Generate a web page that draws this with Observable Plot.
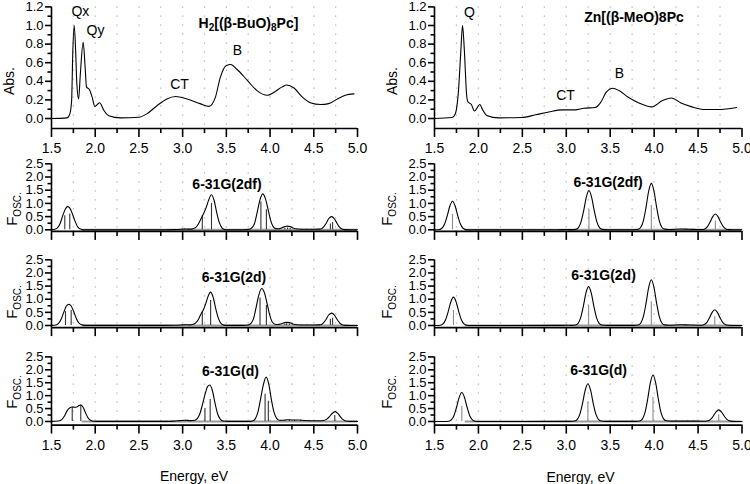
<!DOCTYPE html>
<html><head><meta charset="utf-8">
<script src="https://cdn.jsdelivr.net/npm/d3@7"></script>
<script src="https://cdn.jsdelivr.net/npm/@observablehq/plot@0.6"></script>
<style>
body{margin:0;background:#fff;}
#root{position:relative;width:750px;height:484px;overflow:hidden;font-family:"Liberation Sans",Arial,sans-serif;color:#000;}
#root svg{position:absolute;left:0;top:0;}
.lbl{position:absolute;white-space:nowrap;transform:translate(-50%,-50%);line-height:1;}
.rot{transform:translate(-50%,-50%) rotate(-90deg);}
.sub{font-size:10px;position:relative;top:4px;}
.tsub{font-size:10px;position:relative;top:3px;}
</style></head><body><div id="root"></div>
<script>
// ---------------- data ----------------
const xDomain = [1.5, 5.0];
const xMajor = [1.5, 2.0, 2.5, 3.0, 3.5, 4.0, 4.5, 5.0];
const xMinor = [1.75, 2.25, 2.75, 3.25, 3.75, 4.25, 4.75];
const xGrid = [1.75, 2.0, 2.25, 2.5, 2.75, 3.0, 3.25, 3.5, 3.75, 4.0, 4.25, 4.5, 4.75];
const absMajor = [0, 0.2, 0.4, 0.6, 0.8, 1.0, 1.2];
const absMinor = [0.1, 0.3, 0.5, 0.7, 0.9, 1.1];
const foscMajor = [0, 0.5, 1.0, 1.5, 2.0, 2.5];
const foscMinor = [0.25, 0.75, 1.25, 1.75, 2.25];

// experimental absorption spectra [energy eV, Abs]
const absH2 = [[1.5,0],[1.68,0.007],[1.71,0.05],[1.73,0.19],[1.744,0.73],[1.76,1.0],[1.776,0.73],[1.79,0.37],[1.81,0.21],[1.83,0.48],[1.862,0.82],[1.885,0.55],[1.90,0.34],[1.935,0.31],[1.965,0.23],[1.995,0.13],[2.05,0.17],[2.10,0.086],[2.155,0.03],[2.29,0.007],[2.5,0.014],[2.59,0.05],[2.71,0.14],[2.82,0.21],[2.92,0.237],[3.05,0.21],[3.20,0.16],[3.30,0.13],[3.375,0.23],[3.43,0.44],[3.50,0.57],[3.55,0.58],[3.62,0.53],[3.74,0.41],[3.85,0.30],[3.97,0.25],[4.04,0.28],[4.14,0.34],[4.19,0.36],[4.27,0.33],[4.37,0.23],[4.46,0.17],[4.58,0.15],[4.67,0.16],[4.77,0.21],[4.86,0.25],[4.96,0.265]];
const absZn = [[1.5,0],[1.70,0.01],[1.735,0.046],[1.773,0.30],[1.80,0.73],[1.819,1.0],[1.84,0.73],[1.865,0.26],[1.88,0.18],[1.92,0.15],[1.955,0.08],[2.016,0.15],[2.05,0.09],[2.10,0.03],[2.23,0.007],[2.49,0.01],[2.65,0.04],[2.80,0.07],[2.95,0.093],[3.10,0.093],[3.20,0.11],[3.33,0.118],[3.39,0.17],[3.46,0.29],[3.53,0.325],[3.60,0.30],[3.71,0.225],[3.82,0.17],[3.975,0.125],[4.09,0.19],[4.2,0.22],[4.30,0.17],[4.43,0.125],[4.58,0.096],[4.73,0.096],[4.94,0.118]];

// calculated (broadened) spectra [energy eV, Fosc]
const fH2_2df = [[1.5,0.005],[1.54,0.02],[1.57,0.08],[1.60,0.25],[1.63,0.55],[1.66,0.8],[1.685,0.88],[1.71,0.82],[1.74,0.6],[1.77,0.32],[1.80,0.11],[1.83,0.03],[1.87,0.005],[2.8,0.005],[2.9,0.01],[2.98,0.02],[3.03,0.03],[3.08,0.025],[3.12,0.045],[3.15,0.09],[3.18,0.22],[3.21,0.42],[3.24,0.62],[3.27,0.85],[3.30,1.15],[3.33,1.33],[3.36,1.11],[3.39,0.65],[3.42,0.27],[3.45,0.075],[3.48,0.015],[3.53,0.003],[3.70,0.003],[3.76,0.02],[3.79,0.07],[3.82,0.22],[3.85,0.62],[3.88,1.08],[3.915,1.36],[3.945,1.2],[3.975,0.8],[4.005,0.38],[4.035,0.12],[4.065,0.045],[4.10,0.04],[4.13,0.07],[4.17,0.12],[4.20,0.14],[4.23,0.12],[4.27,0.06],[4.32,0.03],[4.40,0.02],[4.50,0.02],[4.56,0.025],[4.58,0.03],[4.61,0.1],[4.64,0.24],[4.67,0.42],[4.706,0.5],[4.735,0.42],[4.765,0.25],[4.795,0.1],[4.825,0.03],[4.86,0.006],[4.92,0.002],[5.0,0.002]];
const fH2_2d = [[1.5,0.005],[1.55,0.02],[1.58,0.08],[1.61,0.24],[1.64,0.5],[1.67,0.74],[1.698,0.81],[1.725,0.74],[1.755,0.52],[1.785,0.26],[1.815,0.09],[1.845,0.025],[1.88,0.005],[2.8,0.005],[2.9,0.01],[2.98,0.02],[3.03,0.03],[3.08,0.025],[3.12,0.045],[3.15,0.1],[3.18,0.23],[3.21,0.44],[3.24,0.62],[3.265,0.84],[3.29,1.1],[3.32,1.27],[3.35,1.06],[3.38,0.62],[3.41,0.26],[3.44,0.07],[3.47,0.015],[3.52,0.003],[3.69,0.003],[3.75,0.02],[3.78,0.08],[3.81,0.25],[3.84,0.68],[3.87,1.15],[3.905,1.41],[3.935,1.25],[3.965,0.85],[3.995,0.41],[4.025,0.13],[4.055,0.05],[4.09,0.04],[4.13,0.07],[4.17,0.11],[4.19,0.12],[4.22,0.11],[4.26,0.06],[4.31,0.03],[4.40,0.02],[4.50,0.02],[4.56,0.025],[4.58,0.03],[4.61,0.1],[4.64,0.23],[4.67,0.4],[4.706,0.47],[4.735,0.4],[4.765,0.24],[4.795,0.1],[4.825,0.03],[4.86,0.006],[4.92,0.002],[5.0,0.002]];
const fH2_d = [[1.5,0.005],[1.58,0.02],[1.62,0.08],[1.65,0.22],[1.68,0.42],[1.71,0.53],[1.74,0.56],[1.765,0.55],[1.79,0.56],[1.815,0.62],[1.835,0.64],[1.86,0.56],[1.89,0.33],[1.92,0.13],[1.95,0.04],[1.98,0.01],[2.05,0.003],[2.8,0.005],[2.9,0.015],[2.97,0.035],[3.03,0.05],[3.09,0.035],[3.14,0.05],[3.17,0.12],[3.20,0.33],[3.23,0.7],[3.26,1.1],[3.285,1.35],[3.31,1.41],[3.34,1.2],[3.37,0.72],[3.40,0.3],[3.43,0.09],[3.46,0.02],[3.52,0.003],[3.77,0.003],[3.80,0.02],[3.83,0.1],[3.86,0.35],[3.89,0.85],[3.925,1.45],[3.955,1.72],[3.985,1.45],[4.015,0.85],[4.045,0.36],[4.075,0.12],[4.105,0.05],[4.14,0.05],[4.2,0.07],[4.25,0.06],[4.32,0.06],[4.4,0.04],[4.5,0.03],[4.58,0.03],[4.61,0.04],[4.65,0.09],[4.68,0.19],[4.71,0.31],[4.744,0.38],[4.775,0.31],[4.805,0.18],[4.835,0.07],[4.865,0.02],[4.92,0.003],[5.0,0.003]];
const fZn_2df = [[1.5,0.002],[1.555,0.012],[1.585,0.06],[1.615,0.22],[1.645,0.53],[1.675,0.9],[1.705,1.08],[1.735,0.9],[1.765,0.53],[1.795,0.22],[1.825,0.06],[1.855,0.012],[1.905,0.002],[2.9,0.003],[2.99,0.01],[3.06,0.006],[3.108,0.016],[3.138,0.083],[3.168,0.30],[3.198,0.73],[3.228,1.24],[3.258,1.49],[3.288,1.24],[3.318,0.73],[3.348,0.30],[3.378,0.083],[3.408,0.016],[3.46,0.003],[3.77,0.003],[3.818,0.019],[3.848,0.099],[3.878,0.35],[3.908,0.86],[3.938,1.47],[3.968,1.76],[3.998,1.47],[4.028,0.86],[4.058,0.35],[4.088,0.099],[4.118,0.025],[4.17,0.012],[4.3,0.03],[4.4,0.02],[4.5,0.012],[4.547,0.012],[4.577,0.034],[4.607,0.12],[4.637,0.294],[4.667,0.5],[4.697,0.6],[4.727,0.5],[4.757,0.294],[4.787,0.12],[4.817,0.034],[4.847,0.007],[4.9,0.002],[5.0,0.002]];
const fZn_2d = [[1.5,0.002],[1.566,0.012],[1.596,0.06],[1.626,0.22],[1.656,0.53],[1.686,0.9],[1.716,1.08],[1.746,0.9],[1.776,0.53],[1.806,0.22],[1.836,0.06],[1.866,0.012],[1.916,0.002],[2.9,0.003],[3.0,0.01],[3.06,0.006],[3.104,0.016],[3.134,0.083],[3.164,0.30],[3.194,0.73],[3.224,1.24],[3.254,1.48],[3.284,1.24],[3.314,0.73],[3.344,0.30],[3.374,0.083],[3.404,0.016],[3.46,0.003],[3.77,0.003],[3.818,0.019],[3.848,0.097],[3.878,0.35],[3.908,0.85],[3.938,1.45],[3.968,1.74],[3.998,1.45],[4.028,0.85],[4.058,0.35],[4.088,0.097],[4.118,0.025],[4.17,0.012],[4.3,0.03],[4.4,0.02],[4.5,0.012],[4.54,0.012],[4.57,0.034],[4.60,0.12],[4.63,0.294],[4.66,0.5],[4.69,0.6],[4.72,0.5],[4.75,0.294],[4.78,0.12],[4.81,0.034],[4.84,0.007],[4.9,0.002],[5.0,0.002]];
const fZn_d = [[1.5,0.002],[1.611,0.002],[1.661,0.012],[1.691,0.063],[1.721,0.224],[1.751,0.55],[1.781,0.935],[1.811,1.12],[1.841,0.935],[1.871,0.55],[1.901,0.224],[1.931,0.063],[1.961,0.012],[2.011,0.002],[3.04,0.003],[3.096,0.016],[3.126,0.082],[3.156,0.292],[3.186,0.715],[3.216,1.22],[3.246,1.46],[3.276,1.22],[3.306,0.715],[3.336,0.292],[3.366,0.082],[3.396,0.016],[3.446,0.003],[3.787,0.003],[3.837,0.02],[3.867,0.1],[3.897,0.36],[3.927,0.88],[3.957,1.5],[3.987,1.8],[4.017,1.5],[4.047,0.88],[4.077,0.36],[4.107,0.1],[4.137,0.03],[4.2,0.015],[4.4,0.015],[4.55,0.01],[4.585,0.01],[4.615,0.025],[4.645,0.09],[4.675,0.22],[4.705,0.376],[4.735,0.45],[4.765,0.376],[4.795,0.22],[4.825,0.09],[4.855,0.025],[4.885,0.005],[4.94,0.002],[5.0,0.002]];

// oscillator strength sticks [energy eV, Fosc]
const sH2_2df = [[1.652,0.53],[1.709,0.6],[3.02,0.03],[3.225,0.54],[3.33,1.0],[3.895,1.05],[3.958,0.76],[4.17,0.05],[4.2,0.07],[4.23,0.05],[4.36,0.02],[4.42,0.02],[4.69,0.22],[4.715,0.28]];
const sH2_2d = [[1.66,0.53],[1.725,0.57],[3.03,0.03],[3.225,0.51],[3.32,0.95],[3.885,1.05],[3.958,0.76],[4.17,0.05],[4.19,0.07],[4.22,0.05],[4.36,0.02],[4.42,0.02],[4.69,0.24],[4.715,0.28]];
const sH2_d = [[1.737,0.55],[1.835,0.63],[3.03,0.05],[3.255,0.5],[3.315,0.85],[3.943,1.05],[3.98,0.78],[4.12,0.03],[4.17,0.04],[4.22,0.04],[4.28,0.05],[4.35,0.05],[4.45,0.03],[4.74,0.23]];
const sZn_2df = [[1.705,0.58],[2.99,0.02],[3.258,0.77],[3.968,0.92],[4.3,0.02],[4.45,0.02],[4.697,0.33]];
const sZn_2d = [[1.716,0.57],[3.0,0.02],[3.254,0.76],[3.968,0.9],[4.3,0.02],[4.45,0.02],[4.69,0.33]];
const sZn_d = [[1.811,0.58],[3.246,0.75],[3.987,0.93],[4.12,0.03],[4.38,0.03],[4.45,0.03],[4.735,0.26]];

const basisSets = ["6-31G(2df)", "6-31G(2d)", "6-31G(d)"];

// ---------------- layout ----------------
const W = 750, H = 484;
const FONT = "Liberation Sans, Arial, sans-serif";
const cols = [{x0: 51, x1: 357}, {x0: 434, x1: 741.5}];
const rows = [
  {top: 6.4, bottom: 128, domain: [-0.1075, 1.2], major: absMajor, minor: absMinor, showX: true},
  {top: 163.3, bottom: 230.9, domain: [-0.06, 2.5], major: foscMajor, minor: foscMinor, showX: false},
  {top: 259.3, bottom: 327.1, domain: [-0.08, 2.5], major: foscMajor, minor: foscMinor, showX: false},
  {top: 356.4, bottom: 424.6, domain: [-0.14, 2.5], major: foscMajor, minor: foscMinor, showX: true}
];
const fmt = d3.format(".1f");
const root = document.getElementById("root");

function panel(c, r, marks) {
  const g = cols[c], R = rows[r];
  const svg = Plot.plot({
    width: W, height: H,
    marginLeft: g.x0, marginRight: W - g.x1,
    marginTop: R.top, marginBottom: H - R.bottom,
    x: {domain: xDomain},
    y: {domain: R.domain},
    style: {background: "transparent", fontFamily: FONT, color: "#000", overflow: "visible"},
    marks: [
      Plot.ruleX(xGrid, {stroke: "#b4b4b4", strokeWidth: 1.3, strokeDasharray: "1.3,7.7"}),
      ...marks,
      Plot.ruleX([xDomain[0]], {strokeWidth: 1.6}),
      Plot.ruleY([R.domain[0]], {strokeWidth: 1.6}),
      R.showX
        ? Plot.axisX({ticks: xMajor, tickSize: 9, tickPadding: 6, tickFormat: fmt, strokeWidth: 1.6, fontSize: 14, label: null})
        : Plot.axisX({ticks: xMajor, tickSize: 9, fill: "none", strokeWidth: 1.6, label: null}),
      Plot.axisX({ticks: xMinor, tickSize: 5, fill: "none", strokeWidth: 1.6, label: null}),
      Plot.axisY({ticks: R.major, tickSize: 6, tickPadding: 2, tickFormat: fmt, strokeWidth: 1.6, fontSize: 13, label: null}),
      Plot.axisY({ticks: R.minor, tickSize: 3.5, fill: "none", strokeWidth: 1.6, label: null})
    ]
  });
  root.appendChild(svg);
}

const txt = (s, x, y, extra = {}) => Plot.text([s], {x: [x], y: [y], text: d => d, fontSize: 14, fontFamily: FONT, fill: "#000", ...extra});

// top: absorption
panel(0, 0, [
  Plot.line(absH2, {x: d => d[0], y: d => d[1], curve: "monotone-x", stroke: "#000", strokeWidth: 1.1}),
  txt("Qx", 1.83, 1.145), txt("Qy", 2.003, 0.946), txt("CT", 2.964, 0.366), txt("B", 3.627, 0.726)
]);
panel(1, 0, [
  Plot.line(absZn, {x: d => d[0], y: d => d[1], curve: "monotone-x", stroke: "#000", strokeWidth: 1.1}),
  txt("Q", 1.898, 1.14), txt("CT", 2.991, 0.246), txt("B", 3.606, 0.48)
]);

function fosc(c, r, curve, sticks, stickColor, title, tx, ty) {
  panel(c, r, [
    Plot.ruleY([0], {x1: 1.85, x2: 5.0, stroke: "#9a9a9a", strokeWidth: 2.2}),
    Plot.ruleX(sticks, {x: d => d[0], y1: 0, y2: d => d[1], stroke: stickColor, strokeWidth: 1.1}),
    Plot.line(curve, {x: d => d[0], y: d => d[1], curve: "monotone-x", stroke: "#000", strokeWidth: 1.1}),
    txt(title, tx, ty, {fontWeight: "bold"})
  ]);
}
fosc(0, 1, fH2_2df, sH2_2df, "#333", basisSets[0], 3.507, 1.716);
fosc(0, 2, fH2_2d, sH2_2d, "#333", basisSets[1], 3.587, 1.83);
fosc(0, 3, fH2_d, sH2_d, "#333", basisSets[2], 3.547, 1.95);
fosc(1, 1, fZn_2df, sZn_2df, "#8a8a8a", basisSets[0], 3.475, 1.79);
fosc(1, 2, fZn_2d, sZn_2d, "#8a8a8a", basisSets[1], 3.424, 1.90);
fosc(1, 3, fZn_d, sZn_d, "#8a8a8a", basisSets[2], 3.367, 1.99);

// HTML labels (titles with subscripts, axis titles)
function html(h, x, y, cls, style = "") {
  const d = document.createElement("div");
  d.className = "lbl " + cls;
  d.style.cssText = `left:${x}px;top:${y}px;${style}`;
  d.innerHTML = h;
  root.appendChild(d);
}
html('H<span class="tsub">2</span>[(β-BuO)<span class="tsub">8</span>Pc]', 248.5, 23, "", "font-weight:bold;font-size:14px;");
html('Zn[(β-MeO)8Pc', 634, 16.5, "", "font-weight:bold;font-size:14px;");
html('Abs.', 9, 81, "rot", "font-size:14px;");
html('Abs.', 392, 81, "rot", "font-size:14px;");
const fy = [208.5, 302, 391.5];
for (const y of fy) {
  html('F<span class="sub">OSC.</span>', 11, y, "rot", "font-size:15px;");
  html('F<span class="sub">OSC.</span>', 386, y, "rot", "font-size:15px;");
}
html('Energy, eV', 194, 476, "", "font-size:14px;");
html('Energy, eV', 580.5, 476.5, "", "font-size:14px;");
</script>
</body></html>
